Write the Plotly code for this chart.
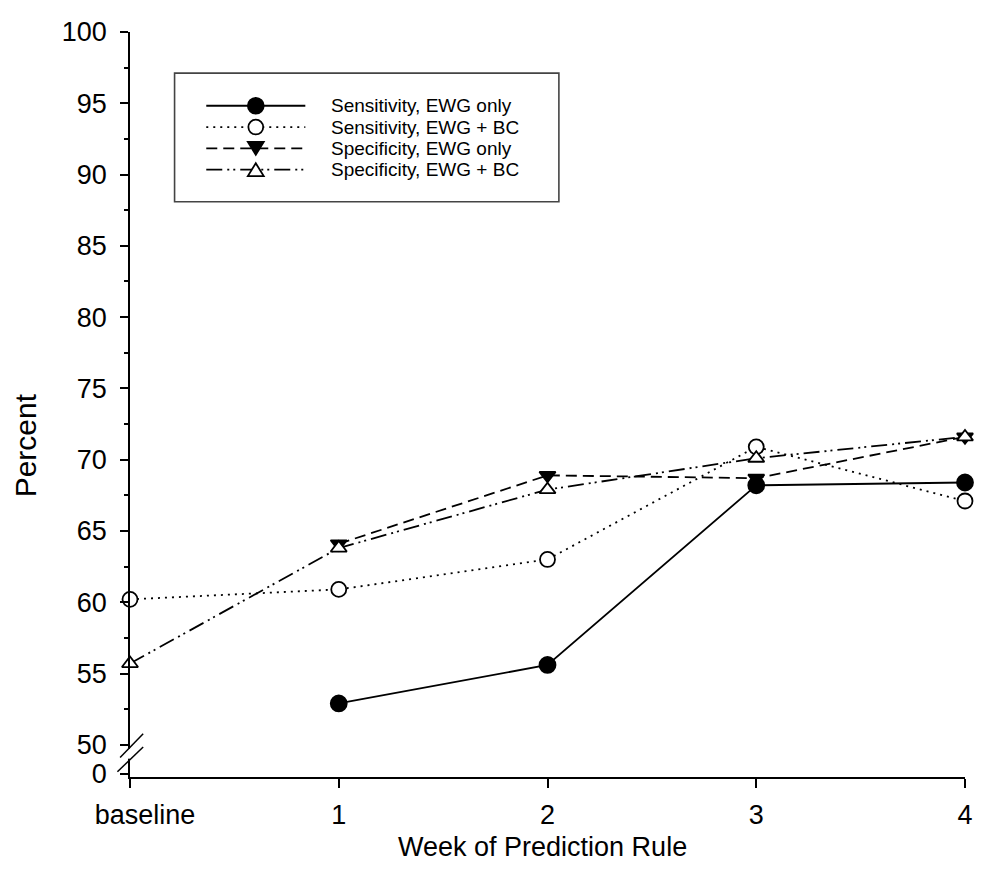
import plotly.graph_objects as go

# ---------------- data ----------------
weeks = [0, 1, 2, 3, 4]
week_labels = ["baseline", "1", "2", "3", "4"]

sens_ewg = [None, 52.9, 55.6, 68.2, 68.4]
sens_ewg_bc = [60.2, 60.9, 63.0, 70.9, 67.1]
spec_ewg = [None, 64.1, 68.9, 68.7, 71.6]
spec_ewg_bc = [55.7, 63.8, 67.9, 70.1, 71.6]

series_names = [
    "Sensitivity, EWG only",
    "Sensitivity, EWG + BC",
    "Specificity, EWG only",
    "Specificity, EWG + BC",
]

y_major = [50, 55, 60, 65, 70, 75, 80, 85, 90, 95, 100]
y_minor = [52.5, 57.5, 62.5, 67.5, 72.5, 77.5, 82.5, 87.5, 92.5, 97.5]
y_break_label = "0"

# ---------------- layout geometry ----------------
OFF = 8                      # default body margin of the html page
PAGE_W, PAGE_H = 982, 872
W, H = PAGE_W - OFF, PAGE_H - 2 * OFF     # keeps the page free of scrollbars
PLOT_L, PLOT_R, PLOT_T, PLOT_B = 130, 973, 24.5, 777   # page pixels of the plot area
L, T = PLOT_L - OFF, PLOT_T - OFF
R = W - (PLOT_R - OFF)
B = H - (PLOT_B - OFF)
PW, PH = PLOT_R - PLOT_L, PLOT_B - PLOT_T
Y_BOTTOM = 47.74          # axis value at the bottom (after the break)
Y_ZERO_POS = 47.98        # where the "0" label of the broken axis sits
FONT = "Liberation Sans, Arial, sans-serif"


def px(xp):
    return (xp - PLOT_L) / PW


def py(yp):
    return (PLOT_B - yp) / PH


DOT = "2px,5px"
DASH = "11px,6px"
DASHDOTDOT = "16px,5px,2px,4px,2px,5px"
LW = 1.8

styles = [
    dict(dash="solid", symbol="circle", mcolor="black", msize=16),
    dict(dash=DOT, symbol="circle", mcolor="white", msize=15),
    dict(dash=DASH, symbol="triangle-down", mcolor="black", msize=14),
    dict(dash=DASHDOTDOT, symbol="triangle-up", mcolor="white", msize=14),
]
series = [sens_ewg, sens_ewg_bc, spec_ewg, spec_ewg_bc]

fig = go.Figure()
for name, ys, st in zip(series_names, series, styles):
    fig.add_trace(go.Scatter(
        x=weeks, y=ys, name=name, mode="lines+markers",
        line=dict(color="black", width=LW, dash=st["dash"]),
        marker=dict(symbol=st["symbol"], size=st["msize"], color=st["mcolor"],
                    line=dict(color="black", width=LW)),
        cliponaxis=False, showlegend=False,
    ))

shapes = []
# axis break marks
shapes.append(dict(type="line", xref="paper", yref="paper",
                   x0=px(130), x1=px(130), y0=py(748.5), y1=py(758.5),
                   line=dict(color="white", width=4), layer="above"))
for (x0, y0, x1, y1) in [(120, 757.3, 143.3, 733.3), (117.3, 771.7, 143.3, 746.7)]:
    shapes.append(dict(type="line", xref="paper", yref="paper",
                       x0=px(x0), y0=py(y0), x1=px(x1), y1=py(y1),
                       line=dict(color="black", width=1.5), layer="above"))

# custom legend box
shapes.append(dict(type="rect", xref="paper", yref="paper",
                   x0=px(175), x1=px(563), y0=py(196), y1=py(66),
                   line=dict(color="#444444", width=1.6), fillcolor="white",
                   layer="above"))
rows = [99, 120.5, 142, 163.5]
annotations = []
mx = 257
for name, st, ry in zip(series_names, styles, rows):
    shapes.append(dict(type="line", xref="paper", yref="paper",
                       x0=px(207), x1=px(307), y0=py(ry), y1=py(ry),
                       line=dict(color="black", width=LW, dash=st["dash"]),
                       layer="above"))
    if st["symbol"] == "circle":
        r = st["msize"] / 2
        shapes.append(dict(type="circle", xref="paper", yref="paper",
                           x0=px(mx - r), x1=px(mx + r), y0=py(ry + r), y1=py(ry - r),
                           fillcolor=st["mcolor"], line=dict(color="black", width=LW),
                           layer="above"))
    else:
        hw, hh = 8, 6.5
        if st["symbol"] == "triangle-down":
            pts = [(mx - hw, ry - hh), (mx + hw, ry - hh), (mx, ry + hh)]
        else:
            pts = [(mx - hw, ry + hh), (mx + hw, ry + hh), (mx, ry - hh)]
        path = "M" + " L".join(f"{px(a):.5f},{py(b):.5f}" for a, b in pts) + " Z"
        shapes.append(dict(type="path", xref="paper", yref="paper", path=path,
                           fillcolor=st["mcolor"], line=dict(color="black", width=LW),
                           layer="above"))
    annotations.append(dict(xref="paper", yref="paper", x=px(332), y=py(ry),
                            xanchor="left", yanchor="middle", showarrow=False,
                            borderpad=0, text=name,
                            font=dict(family=FONT, size=19, color="black")))

# axis titles
annotations.append(dict(xref="paper", yref="paper", x=px(546.5), y=py(864),
                        xanchor="center", yanchor="bottom", showarrow=False,
                        borderpad=0, text="Week of Prediction Rule",
                        font=dict(family=FONT, size=27, color="black")))
annotations.append(dict(xref="paper", yref="paper", x=px(24), y=py(442),
                        xanchor="center", yanchor="middle", showarrow=False,
                        borderpad=0, text="Percent", textangle=-90,
                        font=dict(family=FONT, size=30, color="black")))

tick_text_x = ["\u00a0\u00a0\u00a0\u00a0" + week_labels[0]] + week_labels[1:]

fig.update_layout(
    width=W, height=H,
    margin=dict(l=L, r=R, t=T, b=B, pad=0),
    paper_bgcolor="white", plot_bgcolor="white",
    font=dict(family=FONT, color="black"),
    showlegend=False,
    shapes=shapes, annotations=annotations,
    xaxis=dict(range=[0, 4], tickmode="array", tickvals=weeks, ticktext=tick_text_x,
               showline=True, linecolor="black", linewidth=LW,
               ticks="outside", ticklen=9, tickwidth=LW, tickcolor="black",
               tickfont=dict(family=FONT, size=27, color="black"),
               showgrid=False, zeroline=False, ticklabelstandoff=4),
    yaxis=dict(range=[Y_BOTTOM, 100], tickmode="array",
               tickvals=[Y_ZERO_POS] + y_major,
               ticktext=[y_break_label] + [str(v) for v in y_major],
               showline=True, linecolor="black", linewidth=LW,
               ticks="outside", ticklen=8, tickwidth=LW, tickcolor="black",
               tickfont=dict(family=FONT, size=27, color="black"),
               showgrid=False, zeroline=False, ticklabelstandoff=8,
               minor=dict(tickmode="array", tickvals=y_minor, ticks="outside",
                          ticklen=4.5, tickwidth=1.5, tickcolor="black",
                          showgrid=False)),
)

fig.write_html("out.html")
